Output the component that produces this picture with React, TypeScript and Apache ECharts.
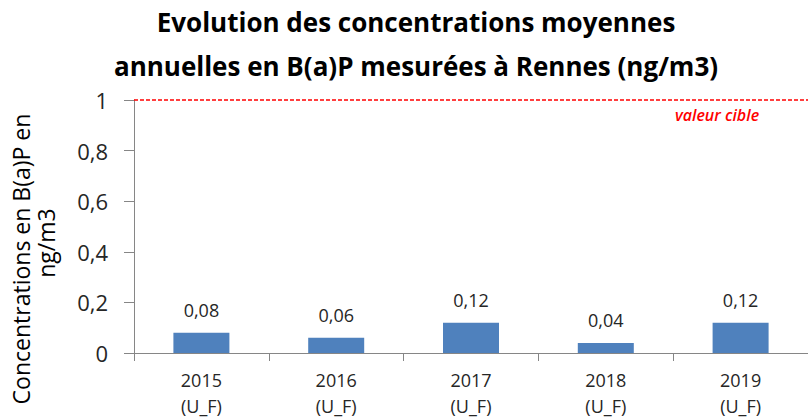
import React, { useEffect, useRef } from "react";
import * as echarts from "echarts";

const titleLines = [
  "Evolution des concentrations moyennes",
  "annuelles en B(a)P mesurées à Rennes (ng/m3)",
];
const categories = ["2015\n(U_F)", "2016\n(U_F)", "2017\n(U_F)", "2018\n(U_F)", "2019\n(U_F)"];
const values = [0.08, 0.06, 0.12, 0.04, 0.12];
const targetValue = 1;
const targetLabel = "valeur cible";
const yAxisNameLines = ["Concentrations en B(a)P en", "ng/m3"];

const fmt = (v: number) => String(v).replace(".", ",");

export default function App() {
  const ref = useRef<HTMLDivElement>(null);
  useEffect(() => {
    document.body.style.margin = "0";
    const chart = echarts.init(ref.current!, null, { renderer: "svg" });
    const font = "'Open Sans', sans-serif";
    chart.setOption({
      animation: false,
      backgroundColor: "#ffffff",
      title: {
        text: titleLines.join("\n"),
        left: 416,
        textAlign: "center",
        top: 0,
        padding: 0,
        textStyle: {
          fontFamily: font,
          fontWeight: "bold",
          fontSize: 26,
          lineHeight: 44,
          color: "#000000",
        },
      },
      grid: { left: 134, top: 100, width: 680, height: 255 },
      xAxis: {
        type: "category",
        data: categories,
        axisLine: { lineStyle: { color: "#868686", width: 1 } },
        axisTick: { show: true, length: 8, lineStyle: { color: "#868686" } },
        axisLabel: {
          margin: 14,
          fontFamily: font,
          fontSize: 18,
          lineHeight: 26,
          color: "#262626",
        },
      },
      yAxis: {
        type: "value",
        min: 0,
        max: 1,
        interval: 0.2,
        splitLine: { show: false },
        axisLine: { show: true, lineStyle: { color: "#868686", width: 1 } },
        axisTick: { show: true, length: 10, lineStyle: { color: "#868686" } },
        axisLabel: {
          margin: 26,
          fontFamily: font,
          fontSize: 22,
          color: "#262626",
          formatter: (v: number) => fmt(v),
        },
      },
      graphic: [
        {
          type: "text",
          x: 21,
          y: 259,
          rotation: Math.PI / 2,
          style: {
            text: yAxisNameLines[0],
            fontFamily: font,
            fontSize: 23,
            fill: "#000000",
            textAlign: "center",
            textVerticalAlign: "middle",
          },
        },
        {
          type: "text",
          x: 46,
          y: 243,
          rotation: Math.PI / 2,
          style: {
            text: yAxisNameLines[1],
            fontFamily: font,
            fontSize: 23,
            fill: "#000000",
            textAlign: "center",
            textVerticalAlign: "middle",
          },
        },
        {
          type: "text",
          x: 717,
          y: 115,
          style: {
            text: targetLabel,
            fontFamily: font,
            fontStyle: "italic",
            fontWeight: 600,
            fontSize: 16,
            fill: "#ff0000",
            textAlign: "center",
            textVerticalAlign: "middle",
          },
        },
      ],
      series: [
        {
          type: "bar",
          data: values,
          barWidth: 56,
          itemStyle: { color: "#4f81bd" },
          label: {
            show: true,
            position: "top",
            distance: 14,
            fontFamily: font,
            fontSize: 18,
            color: "#262626",
            formatter: (p: any) => fmt(p.value),
          },
          markLine: {
            symbol: "none",
            silent: true,
            label: { show: false },
            lineStyle: { color: "#ff0000", type: [4, 2], width: 1.5 },
            data: [{ yAxis: targetValue }],
          },
        },
      ],
    });
    return () => chart.dispose();
  }, []);
  return <div ref={ref} style={{ width: 808, height: 419 }} />;
}
